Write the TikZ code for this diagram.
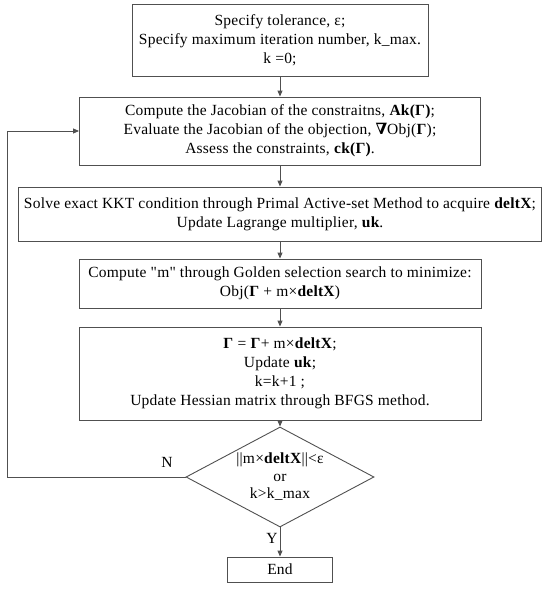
\documentclass[tikz,border=0pt]{standalone}
\usepackage{fontspec}
\setmainfont{Liberation Serif}[LetterSpace=1.5, Ligatures=TeXOff]
\newfontfamily\dvfont{DejaVu Serif}
\usetikzlibrary{arrows.meta,shapes.geometric}
\definecolor{linegray}{HTML}{505050}
\begin{document}
\begin{tikzpicture}[x=1pt,y=-1pt,
  every node/.style={font=\fontsize{15.5}{19}\selectfont, text=black},
  box/.style={draw=linegray, line width=0.9pt, align=center, inner sep=0pt},
  arr/.style={draw=linegray, line width=0.9pt, -{Triangle[length=6pt,width=5pt]}},
  lbl/.style={inner sep=1pt}]
\useasboundingbox (0,0) rectangle (550,590);
\node[box, minimum width=296, minimum height=72] (b1) at (280,40)
  {Specify tolerance, ε;\\Specify maximum iteration number, k\_max.\\k =0;};
\node[box, minimum width=401, minimum height=68] (b2) at (280,131)
  {Compute the Jacobian of the constraitns, \textbf{Ak(Γ)};\\
   Evaluate the Jacobian of the objection, {\dvfont\bfseries ∇}Obj(\textbf{Γ});\\
   Assess the constraints, \textbf{ck(Γ)}.};
\node[box, minimum width=523, minimum height=54] (b3) at (280,214)
  {Solve exact KKT condition through Primal Active-set Method to acquire \textbf{deltX};\\
   Update Lagrange multiplier, \textbf{uk}.};
\node[box, minimum width=402, minimum height=49] (b4) at (280,283.5)
  {Compute "m" through Golden selection search to minimize:\\
   Obj(\textbf{Γ} + m×\textbf{deltX})};
\node[box, minimum width=402, minimum height=93] (b5) at (280,373.5)
  {\textbf{Γ} = \textbf{Γ}+ m×\textbf{deltX};\\
   Update \textbf{uk};\\
   k=k+1 ;\\
   Update Hessian matrix through BFGS method.};
\node[box, shape=diamond, minimum width=188, minimum height=100,
      font=\fontsize{15.5}{17.5}\selectfont] (dec) at (280,477)
  {\makebox[0pt]{||m×\textbf{deltX}||<ε}\\\makebox[0pt]{or}\\\makebox[0pt]{k>k\_max}};
\node[box, minimum width=105, minimum height=25] (end) at (280,569.5) {End};
\coordinate (fb) at (7,477);
\node[lbl] (nlab) at (167,462) {N};
\node[lbl] (ylab) at (272,538) {Y};
\draw[arr] (b1) -- (b2);
\draw[arr] (b2) -- (b3);
\draw[arr] (b3) -- (b4);
\draw[arr] (b4) -- (b5);
\draw[arr] (b5) -- (dec);
\draw[arr] (dec) -- (end);
\draw[arr] (dec.west) -- (fb) |- (b2.west);
\end{tikzpicture}
\end{document}
